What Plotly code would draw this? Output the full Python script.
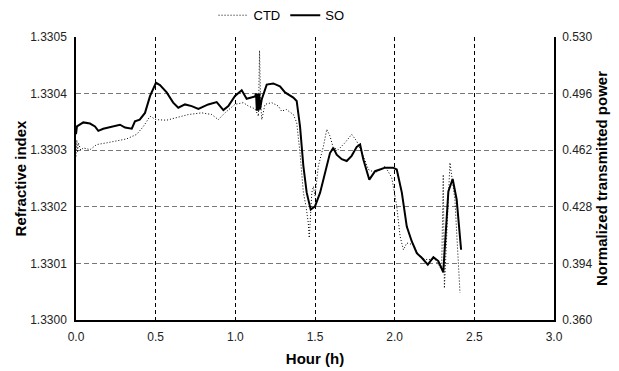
import plotly.graph_objects as go

# CTD: refractive index (left axis)
ctd_hours = [0.0, 0.005, 0.01, 0.015, 0.03, 0.046, 0.088, 0.13, 0.193, 0.255, 0.318, 0.381, 0.423,
             0.465, 0.502, 0.569, 0.621, 0.642, 0.705, 0.789, 0.852, 0.893, 0.935, 0.998, 1.05,
             1.082, 1.124, 1.145, 1.152, 1.158, 1.166, 1.186, 1.228, 1.27, 1.29, 1.32, 1.364,
             1.385, 1.406, 1.427, 1.444, 1.458, 1.464, 1.48, 1.49, 1.5, 1.521, 1.553, 1.574,
             1.594, 1.615, 1.646, 1.688, 1.73, 1.762, 1.803, 1.835, 1.877, 1.929, 1.94, 1.982,
             2.013, 2.034, 2.055, 2.076, 2.117, 2.149, 2.19, 2.253, 2.295, 2.305, 2.312, 2.347,
             2.378, 2.41]
ctd_index = [1.330289, 1.330318, 1.330296, 1.330313, 1.330300, 1.330304, 1.330301, 1.330310,
             1.330313, 1.330316, 1.330320, 1.330328, 1.330342, 1.330360, 1.330354, 1.330353,
             1.330357, 1.330359, 1.330363, 1.330366, 1.330363, 1.330354, 1.330366, 1.330381,
             1.330384, 1.330378, 1.330373, 1.330360, 1.330476, 1.330390, 1.330354, 1.330381,
             1.330384, 1.330378, 1.330369, 1.330372, 1.330363, 1.330349, 1.330295, 1.330225,
             1.330200, 1.330171, 1.330145, 1.330225, 1.330236, 1.330219, 1.330272, 1.330307,
             1.330337, 1.330325, 1.330304, 1.330301, 1.330313, 1.330328, 1.330316, 1.330290,
             1.330266, 1.330260, 1.330269, 1.330272, 1.330251, 1.330201, 1.330148, 1.330124,
             1.330136, 1.330133, 1.330115, 1.330107, 1.330107, 1.330089, 1.330257, 1.330056,
             1.330278, 1.330213, 1.330048]

# SO: normalized transmitted power (right axis)
so_hours = [0.0, 0.006, 0.046, 0.088, 0.119, 0.14, 0.171, 0.234, 0.276, 0.308, 0.35, 0.37, 0.40,
            0.433, 0.465, 0.502, 0.527, 0.569, 0.61, 0.642, 0.684, 0.726, 0.768, 0.83, 0.883,
            0.925, 0.956, 0.998, 1.04, 1.071, 1.124, 1.13, 1.135, 1.14, 1.145, 1.15, 1.155,
            1.166, 1.197, 1.238, 1.28, 1.312, 1.364, 1.385, 1.406, 1.427, 1.448, 1.473, 1.5,
            1.532, 1.563, 1.594, 1.615, 1.636, 1.668, 1.699, 1.73, 1.762, 1.783, 1.803, 1.841,
            1.877, 1.908, 1.94, 1.99, 2.013, 2.045, 2.076, 2.107, 2.139, 2.17, 2.208, 2.243,
            2.274, 2.305, 2.337, 2.364, 2.389, 2.417]
so_power = [0.4716, 0.4763, 0.4787, 0.4780, 0.4763, 0.4736, 0.4749, 0.4763, 0.4773, 0.4756,
            0.4749, 0.4793, 0.4804, 0.4844, 0.4946, 0.5025, 0.5011, 0.4967, 0.4906, 0.4875,
            0.4895, 0.4885, 0.4868, 0.4895, 0.4909, 0.4861, 0.4885, 0.4946, 0.4980, 0.4929,
            0.4943, 0.4960, 0.4858, 0.4960, 0.4858, 0.4960, 0.4865, 0.4926, 0.5014, 0.5021,
            0.5004, 0.4967, 0.4936, 0.4916, 0.4763, 0.4525, 0.4365, 0.4263, 0.4283, 0.4365,
            0.4484, 0.4603, 0.4634, 0.4593, 0.4566, 0.4555, 0.4586, 0.4640, 0.4654, 0.4566,
            0.4443, 0.4494, 0.4504, 0.4515, 0.4515, 0.4504, 0.4365, 0.4161, 0.4073, 0.4001,
            0.3974, 0.3933, 0.3977, 0.3954, 0.3886, 0.4372, 0.4447, 0.4324, 0.4022]

x_ticks = [0.0, 0.5, 1.0, 1.5, 2.0, 2.5, 3.0]
left_ticks = [1.3300, 1.3301, 1.3302, 1.3303, 1.3304, 1.3305]
right_ticks = [0.360, 0.394, 0.428, 0.462, 0.496, 0.530]

FONT = "Liberation Sans, Arial, sans-serif"
TICK = dict(size=12, color="#222")
TITLE = dict(size=15, color="black")

fig = go.Figure()
fig.add_trace(go.Scatter(x=ctd_hours, y=ctd_index, mode="lines", name="CTD",
                         line=dict(color="black", width=1, dash="1px,2px"), yaxis="y"))
fig.add_trace(go.Scatter(x=so_hours, y=so_power, mode="lines", name="SO",
                         line=dict(color="black", width=2), yaxis="y2"))

# the page body keeps its default 8px margin, so the figure is drawn 8px smaller
fig.update_layout(
    width=611, height=363,
    margin=dict(l=68, r=65, t=29, b=51, autoexpand=False),
    paper_bgcolor="white", plot_bgcolor="white",
    font=dict(family=FONT, size=12, color="black"),
    showlegend=True,
    legend=dict(orientation="h", x=0.43, xanchor="center", y=0.98, yref="container",
                yanchor="middle", font=dict(size=13), itemwidth=30, tracegroupgap=0,
                bgcolor="rgba(0,0,0,0)"),
    xaxis=dict(range=[0, 3], tickvals=x_ticks, tickformat=".1f", showline=True,
               linecolor="black", linewidth=1.5, showgrid=True, gridcolor="black",
               griddash="4px,3px", gridwidth=1, zeroline=False, ticks="",
               ticklabelstandoff=5,
               title=dict(text="<b>Hour (h)</b>", font=TITLE, standoff=10),
               tickfont=TICK),
    yaxis=dict(range=[1.3300, 1.3305], tickvals=left_ticks, tickformat=".4f", showline=True,
               linecolor="black", linewidth=1.5, showgrid=True, gridcolor="#777777",
               griddash="5px,3px", gridwidth=1, zeroline=False, ticks="",
               ticklabelstandoff=5,
               title=dict(text="<b>Refractive index</b>", font=TITLE, standoff=0),
               tickfont=TICK),
    yaxis2=dict(range=[0.360, 0.530], tickvals=right_ticks, tickformat=".3f", overlaying="y",
                side="right", showline=True, linecolor="black", linewidth=1.5,
                showgrid=False, zeroline=False, ticks="", ticklabelstandoff=4,
                title=dict(text="<b>Normalized transmitted power</b>", font=TITLE,
                           standoff=2),
                tickfont=TICK),
)

fig.write_html("out.html")
